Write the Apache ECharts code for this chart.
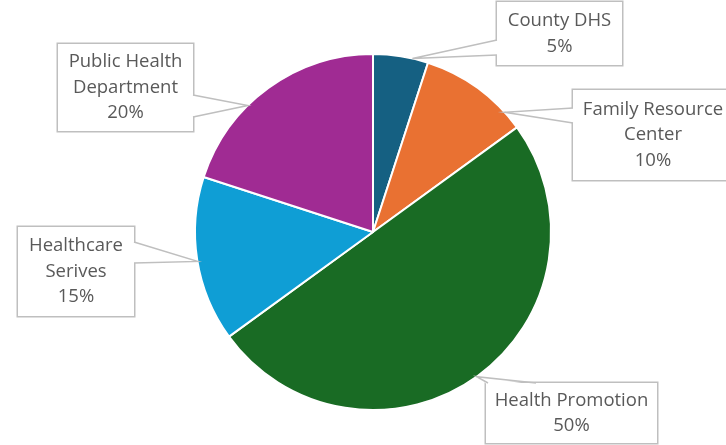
<!DOCTYPE html>
<html><head><meta charset="utf-8">
<script src="https://cdn.jsdelivr.net/npm/echarts@6/dist/echarts.min.js"></script>
<style>html,body{margin:0;padding:0;background:#fff}#c{width:726px;height:445px}</style>
</head><body><div id="c"></div>
<script>
const categories = ['County DHS', 'Family Resource\nCenter', 'Health Promotion', 'Healthcare\nSerives', 'Public Health\nDepartment'];
const values = [5, 10, 50, 15, 20];
const colors = ['#156082', '#E97132', '#196B24', '#0F9ED5', '#A02B93'];
// label box layout: left, top, width, height
const boxes = [
  {l: 497, t: 2, w: 125, h: 63},
  {l: 573, t: 90, w: 160, h: 90},
  {l: 486, t: 383, w: 171, h: 60},
  {l: 18, t: 227, w: 116, h: 89},
  {l: 58, t: 44, w: 135, h: 87}
];
// callout pointers: tip angle (deg clockwise from top), box side, base range
const pointers = [
  {a: 12.8, side: 'left', b0: 40, b1: 55},
  {a: 47.7, side: 'left', b0: 108, b1: 123},
  {a: 144.4, side: 'top', b0: 488, b1: 536},
  {a: 260.5, side: 'right', b0: 242, b1: 263},
  {a: 315.3, side: 'right', b0: 95, b1: 117}
];
const CX = 373, CY = 232, R = 178, LH = 25.5;
const GRAY = '#bfbfbf';
const graphics = [];
pointers.forEach((p, i) => {
  const b = boxes[i];
  const rad = p.a * Math.PI / 180;
  const tip = [CX + R * Math.sin(rad), CY - R * Math.cos(rad)];
  let A, B, Ai, Bi;
  if (p.side === 'left') { A = [b.l, p.b0]; B = [b.l, p.b1]; Ai = [b.l + 2, p.b0]; Bi = [b.l + 2, p.b1]; }
  else if (p.side === 'right') { const x = b.l + b.w; A = [x, p.b0]; B = [x, p.b1]; Ai = [x - 2, p.b0]; Bi = [x - 2, p.b1]; }
  else { A = [p.b0, b.t]; B = [p.b1, b.t]; Ai = [p.b0, b.t + 2]; Bi = [p.b1, b.t + 2]; }
  graphics.push({type: 'polygon', z: 100, shape: {points: [Ai, tip, Bi]}, style: {fill: '#fff', stroke: null}});
  graphics.push({type: 'polyline', z: 101, shape: {points: [A, tip, B]}, style: {stroke: GRAY, lineWidth: 1.5, fill: null}});
});
const chart = echarts.init(document.getElementById('c'), null, {renderer: 'canvas'});
chart.setOption({
  animation: false,
  graphic: graphics,
  series: [{
    type: 'pie',
    center: [CX, CY],
    radius: R,
    startAngle: 90,
    clockwise: true,
    itemStyle: {borderColor: '#fff', borderWidth: 2},
    label: {
      show: true,
      formatter: p => p.name + '\n' + p.value + '%',
      fontFamily: 'Open Sans',
      fontSize: 18.5,
      lineHeight: LH,
      color: '#595959',
      align: 'center',
      verticalAlign: 'middle',
      backgroundColor: '#fff',
      borderColor: GRAY,
      borderWidth: 1.5
    },
    labelLine: {show: false},
    labelLayout: function (params) {
      const b = boxes[params.dataIndex];
      return {x: b.l + b.w / 2, y: b.t + b.h / 2, align: 'center', verticalAlign: 'middle'};
    },
    data: categories.map((n, i) => {
      const b = boxes[i];
      const lines = n.split('\n').length + 1;
      const vp = (b.h - lines * LH) / 2;
      return {
        name: n, value: values[i], itemStyle: {color: colors[i]},
        label: {width: b.w, padding: [vp + 3, 0, vp - 3, 0]}
      };
    })
  }]
});
</script></body></html>
